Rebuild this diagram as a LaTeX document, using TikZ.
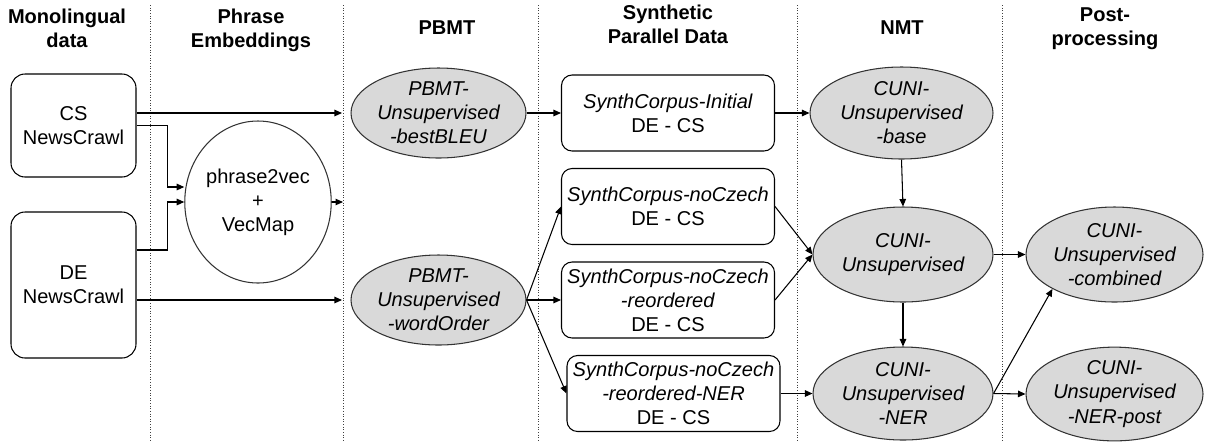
\documentclass[tikz,border=0pt]{standalone}
\usepackage{fontspec}
\setmainfont{Liberation Sans}
\usepackage{tikz}
\usetikzlibrary{calc,positioning,shapes}
\usetikzlibrary{arrows.meta}
\tikzset{>={Triangle[width=1.3mm,length=1.5mm]}}
\newcommand{\diagfont}{\fontsize{11.4}{13.7}\selectfont}

\begin{document}
\begin{tikzpicture}[font=\diagfont, line width=0.6pt]
      \tikzstyle{hnode} = [align=center, font=\diagfont\bfseries]
      \tikzstyle{snode} = [draw=black, rectangle, rounded corners=8pt, align=center, minimum width=2.5cm, inner sep=0pt]
      \tikzstyle{cnode} = [draw=black, rectangle, rounded corners=6pt, align=center, minimum width=4.26cm, minimum height=1.52cm, inner sep=0pt]
      \tikzstyle{enode} = [draw=black!80, ellipse, fill=gray!30, align=center, inner sep=0pt, font=\diagfont\itshape]
      \tikzstyle{divline} = [densely dotted, line width=0.5pt, black!75]

      \useasboundingbox (0,0) rectangle (24.14,-8.82);

      % column separators
      \foreach \x in {3.00, 6.86, 10.76, 15.94, 20.04}
        \draw[divline] (\x,-0.1) -- (\x,-8.82);

      \node[hnode] (hMono) at (1.34,-0.57) {Monolingual\\data};
      \node[hnode] (hPhrase) at (5.02,-0.60) {Phrase\\Embeddings};
      \node[hnode] (hPbmt) at (8.94,-0.56) {PBMT};
      \node[hnode] (hSynth) at (13.36,-0.49) {Synthetic\\Parallel Data};
      \node[hnode] (hNmt) at (18.04,-0.56) {NMT};
      \node[hnode] (hPost) at (22.10,-0.58) {Post-\\processing};

      \node[snode, minimum height=2.06cm] (cs) at (1.47,-2.51) {CS\\NewsCrawl};
      \node[snode, minimum height=2.92cm] (de) at (1.47,-5.70) {DE\\NewsCrawl};
      \node[draw=black!80, ellipse, align=center, inner sep=0pt, minimum width=2.44cm, minimum height=3.24cm] (p2v) at (5.16,-4.04) {phrase2vec\\+\\VecMap};
      \coordinate (p2vEnd) at (6.86,-4.04);

      \node[enode, minimum width=3.5cm, minimum height=1.8cm] (pbmtA) at (8.77,-2.26) {PBMT-\\Unsupervised\\-bestBLEU};
      \node[enode, minimum width=3.5cm, minimum height=1.8cm] (pbmtB) at (8.77,-6.00) {PBMT-\\Unsupervised\\-wordOrder};

      \node[cnode] (initial) at (13.36,-2.26) {\textit{SynthCorpus-Initial}\\DE - CS};
      \node[cnode] (noczech) at (13.36,-4.13) {\textit{SynthCorpus-noCzech}\\DE - CS};
      \node[cnode] (reord) at (13.36,-6.00) {\textit{SynthCorpus-noCzech}\\\textit{-reordered}\\DE - CS};
      \node[cnode] (nerBox) at (13.47,-7.87) {\textit{SynthCorpus-noCzech}\\\textit{-reordered-NER}\\DE - CS};

      \node[enode, minimum width=3.66cm, minimum height=1.84cm] (base) at (18.03,-2.26) {CUNI-\\Unsupervised\\-base};
      \node[enode, minimum width=3.6cm, minimum height=1.9cm] (unsup) at (18.06,-5.09) {CUNI-\\Unsupervised};
      \node[enode, minimum width=3.6cm, minimum height=1.86cm] (nerN) at (18.06,-7.87) {CUNI-\\Unsupervised\\-NER};

      \node[enode, minimum width=3.54cm, minimum height=1.9cm] (comb) at (22.29,-5.09) {CUNI-\\Unsupervised\\-combined};
      \node[enode, minimum width=3.54cm, minimum height=1.84cm] (post) at (22.29,-7.88) {CUNI-\\Unsupervised\\-NER-post};

      \draw[black,->,shorten >=0.17cm] (cs.east |- pbmtA.west) -- (pbmtA.west);
      \draw[black,->,shorten >=0.17cm] (de.east |- pbmtB.west) -- (pbmtB.west);
      \draw[black,->] (cs.east) -- ++(0.62,0) |- ([yshift=0.3cm]p2v.west);
      \draw[black,->] ([yshift=0.7cm]de.east) -- ++(0.62,0) |- (p2v.west);
      \draw[black,->] (p2v.east) -- (p2vEnd);

      \draw[black,->] (pbmtA.east) -- (initial.west);
      \draw[black,->] (pbmtB.east) -- (noczech.west);
      \draw[black,->] (pbmtB.east) -- (reord.west);
      \draw[black,->] (pbmtB.east) -- (nerBox.west);

      \draw[black,->] (initial.east) -- (base.west);
      \draw[black,->] (noczech.east) -- (unsup.west);
      \draw[black,->] (reord.east) -- (unsup.west);
      \draw[black,->] (nerBox.east) -- (nerN.west);
      \draw[black,->] (base.south) -- (unsup.north);
      \draw[black,->] (unsup.south) -- (nerN.north);

      \draw[black,->] (unsup.east) -- (comb.west);
      \draw[black,->] (nerN.east) -- (comb.209);
      \draw[black,->] (nerN.east) -- (post.west);

\end{tikzpicture}
\end{document}
